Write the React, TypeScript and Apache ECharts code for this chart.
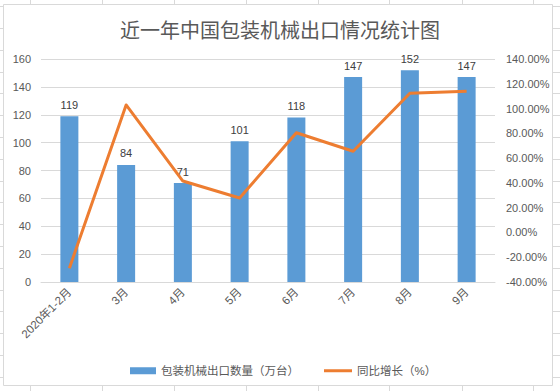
import React, { useEffect, useRef } from "react";
import * as echarts from "echarts";

const categories = ["2020年1-2月", "3月", "4月", "5月", "6月", "7月", "8月", "9月"];
const exportVolume = [119, 84, 71, 101, 118, 147, 152, 147];
const yoyGrowth = [-28.9, 102.9, 41.5, 27.8, 80.5, 65.5, 112.3, 113.9];
const titleText = "近一年中国包装机械出口情况统计图";
const barName = "包装机械出口数量（万台）";
const lineName = "同比增长（%）";

const W = 560;
const H = 391;
const FONT = "'Liberation Sans', 'Noto Sans CJK SC', sans-serif";
const GRAY = "#d9d9d9";
const TEXT = "#595959";

function buildDecor() {
  const els: any[] = [];
  const box = { x1: 3.5, y1: 4.5, x2: 552.5, y2: 385.5 };
  const cols = [30, 102, 174, 246, 318, 389, 462, 533];
  cols.forEach((x) => {
    els.push({ type: "line", shape: { x1: x + 0.5, y1: 0, x2: x + 0.5, y2: box.y1 }, style: { stroke: GRAY, lineWidth: 1 }, silent: true });
    els.push({ type: "line", shape: { x1: x + 0.5, y1: box.y2, x2: x + 0.5, y2: H }, style: { stroke: GRAY, lineWidth: 1 }, silent: true });
  });
  for (let k = 0; k < 18; k++) {
    const y = Math.round(6.2 + 21.8 * k) + 0.5;
    els.push({ type: "line", shape: { x1: 0, y1: y, x2: box.x1, y2: y }, style: { stroke: GRAY, lineWidth: 1 }, silent: true });
    els.push({ type: "line", shape: { x1: box.x2, y1: y, x2: W, y2: y }, style: { stroke: GRAY, lineWidth: 1 }, silent: true });
  }
  els.push({
    type: "rect",
    shape: { x: box.x1, y: box.y1, width: box.x2 - box.x1, height: box.y2 - box.y1 },
    style: { fill: "none", stroke: GRAY, lineWidth: 1 },
    silent: true,
  });
  return els;
}

export default function App() {
  const ref = useRef<HTMLDivElement>(null);
  useEffect(() => {
    if (!ref.current) return;
    const chart = echarts.init(ref.current, null, { renderer: "svg" });
    const legendText = { fontFamily: FONT, fontSize: 11.5, color: TEXT };
    chart.setOption({
      animation: false,
      backgroundColor: "#ffffff",
      textStyle: { fontFamily: FONT },
      title: {
        text: titleText,
        left: "center",
        top: 16,
        textStyle: { fontFamily: FONT, fontSize: 20, fontWeight: "normal", color: TEXT },
      },
      graphic: buildDecor(),
      grid: { left: 41, right: 65, top: 59, bottom: 109, containLabel: false },
      legend: [
        {
          top: 360,
          left: 125,
          itemWidth: 26,
          itemHeight: 7,
          textStyle: legendText,
          data: [{ name: barName, icon: "rect" }],
        },
        {
          top: 360,
          left: 319,
          itemWidth: 28,
          itemHeight: 3,
          textStyle: legendText,
          data: [{ name: lineName, icon: "rect" }],
        },
      ],
      xAxis: {
        type: "category",
        data: categories,
        axisLine: { lineStyle: { color: GRAY } },
        axisTick: { show: false },
        axisLabel: { rotate: 45, interval: 0, margin: 8, fontSize: 11.5, color: TEXT, fontFamily: FONT },
      },
      yAxis: [
        {
          type: "value",
          min: 0,
          max: 160,
          interval: 20,
          axisLine: { show: false },
          axisTick: { show: false },
          splitLine: { lineStyle: { color: GRAY } },
          axisLabel: { margin: 10, fontSize: 11, color: TEXT, fontFamily: FONT },
        },
        {
          type: "value",
          min: -40,
          max: 140,
          interval: 20,
          axisLine: { show: false },
          axisTick: { show: false },
          splitLine: { show: false },
          axisLabel: {
            margin: 11,
            fontSize: 11,
            color: TEXT,
            fontFamily: FONT,
            formatter: (v: number) => v.toFixed(2) + "%",
          },
        },
      ],
      series: [
        {
          name: barName,
          type: "bar",
          data: exportVolume,
          barWidth: 18,
          itemStyle: { color: "#5b9bd5" },
          label: { show: true, position: "top", distance: 6, fontSize: 11, color: "#404040", fontFamily: FONT },
        },
        {
          name: lineName,
          type: "line",
          yAxisIndex: 1,
          data: yoyGrowth,
          symbol: "none",
          lineStyle: { color: "#ed7d31", width: 3, join: "round" },
          itemStyle: { color: "#ed7d31" },
        },
      ],
    });
    return () => chart.dispose();
  }, []);
  return <div ref={ref} style={{ position: "absolute", left: 0, top: 0, width: W, height: H }} />;
}
